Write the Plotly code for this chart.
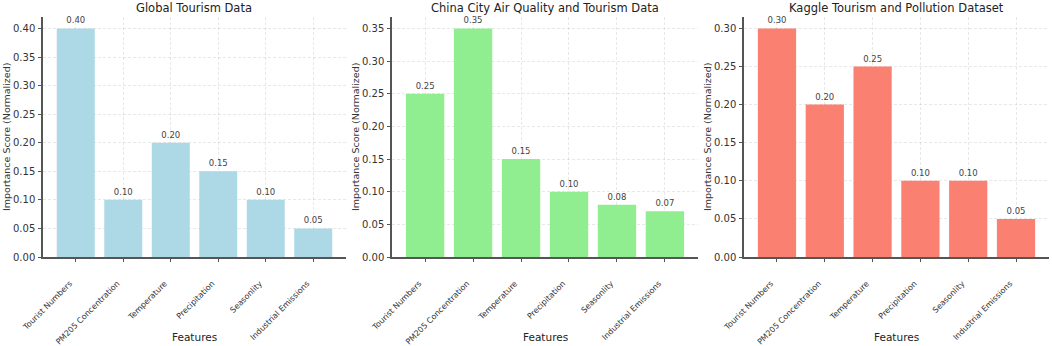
import plotly.graph_objects as go

features = ["Tourist Numbers", "PM205 Concentration", "Temperature",
            "Precipitation", "Seasonlity", "Industrial Emissions"]
global_vals = [0.40, 0.10, 0.20, 0.15, 0.10, 0.05]
china_vals = [0.25, 0.35, 0.15, 0.10, 0.08, 0.07]
kaggle_vals = [0.30, 0.20, 0.25, 0.10, 0.10, 0.05]
titles = ["Global Tourism Data", "China City Air Quality and Tourism Data",
          "Kaggle Tourism and Pollution Dataset"]
colors = ["#ADD8E6", "#90EE90", "#FA8072"]
series = [global_vals, china_vals, kaggle_vals]

W, H = 1052, 346
xdoms = [(43 / W, 346 / W), (392 / W, 698 / W), (744 / W, 1049 / W)]
ydom = ((346 - 257) / H, (346 - 17) / H)
ytick_sets = [
    [0, 0.05, 0.10, 0.15, 0.20, 0.25, 0.30, 0.35, 0.40],
    [0, 0.05, 0.10, 0.15, 0.20, 0.25, 0.30, 0.35],
    [0, 0.05, 0.10, 0.15, 0.20, 0.25, 0.30],
]

FONT = "DejaVu Sans"
GRID = "rgba(0,0,0,0.09)"
fig = go.Figure()
layout = dict(
    width=W, height=H, margin=dict(l=0, r=0, t=0, b=0, autoexpand=False),
    paper_bgcolor="white", plot_bgcolor="white",
    showlegend=False, bargap=0.2,
    font=dict(family=FONT, color="#333333"),
    annotations=[],
)
for i, (vals, col, title) in enumerate(zip(series, colors, titles)):
    xa = "x" if i == 0 else f"x{i+1}"
    ya = "y" if i == 0 else f"y{i+1}"
    fig.add_trace(go.Bar(
        x=features, y=vals, marker=dict(color=col, line=dict(width=0)),
        text=[f"{v:.2f}" for v in vals], textposition="outside",
        textfont=dict(size=8.5, color="#444444", family=FONT),
        cliponaxis=False, xaxis=xa, yaxis=ya, hoverinfo="skip",
    ))
    top = max(vals) * 1.05
    layout["xaxis" if i == 0 else f"xaxis{i+1}"] = dict(
        domain=list(xdoms[i]), anchor=ya, type="category",
        range=[-0.69, 5.69], tickangle=-45, automargin=False,
        tickfont=dict(size=8, color="#333333", family=FONT),
        ticklabelstandoff=14, ticklabelshift=-6, ticklabeloverflow="allow",
        showgrid=True, gridcolor=GRID, griddash="3px,2px", gridwidth=1,
        showline=True, linecolor="#555555", linewidth=1.5,
        ticks="outside", ticklen=3, tickcolor="#555555",
        layer="above traces", zeroline=False,
    )
    layout["yaxis" if i == 0 else f"yaxis{i+1}"] = dict(
        domain=list(ydom), anchor=xa, range=[0, top], automargin=False,
        tickvals=ytick_sets[i], ticktext=[f"{t:.2f}" for t in ytick_sets[i]],
        tickfont=dict(size=10, color="#333333", family=FONT),
        ticklabelstandoff=1, ticklabeloverflow="allow",
        showgrid=True, gridcolor=GRID, griddash="3px,2px", gridwidth=1,
        showline=True, linecolor="#555555", linewidth=1.5,
        ticks="outside", ticklen=3, tickcolor="#555555",
        layer="above traces", zeroline=False,
    )
    cx = (xdoms[i][0] + xdoms[i][1]) / 2
    layout["annotations"].append(dict(
        text=title, x=cx, y=1 - 8 / H,
        xref="paper", yref="paper", showarrow=False,
        xanchor="center", yanchor="middle",
        font=dict(size=11.5, color="#222222", family=FONT),
    ))
    layout["annotations"].append(dict(
        text="Features", x=cx, y=1 - 337 / H,
        xref="paper", yref="paper", showarrow=False,
        xanchor="center", yanchor="middle",
        font=dict(size=10.5, color="#222222", family=FONT),
    ))
    layout["annotations"].append(dict(
        text="Importance Score (Normalized)", x=xdoms[i][0] - 36 / W,
        y=(ydom[0] + ydom[1]) / 2, textangle=-90,
        xref="paper", yref="paper", showarrow=False,
        xanchor="center", yanchor="middle",
        font=dict(size=9.5, color="#333333", family=FONT),
    ))

fig.update_layout(**layout)
fig.write_html("out.html", config={"displayModeBar": False},
               post_script="document.body.style.margin='0';document.body.style.padding='0';")
